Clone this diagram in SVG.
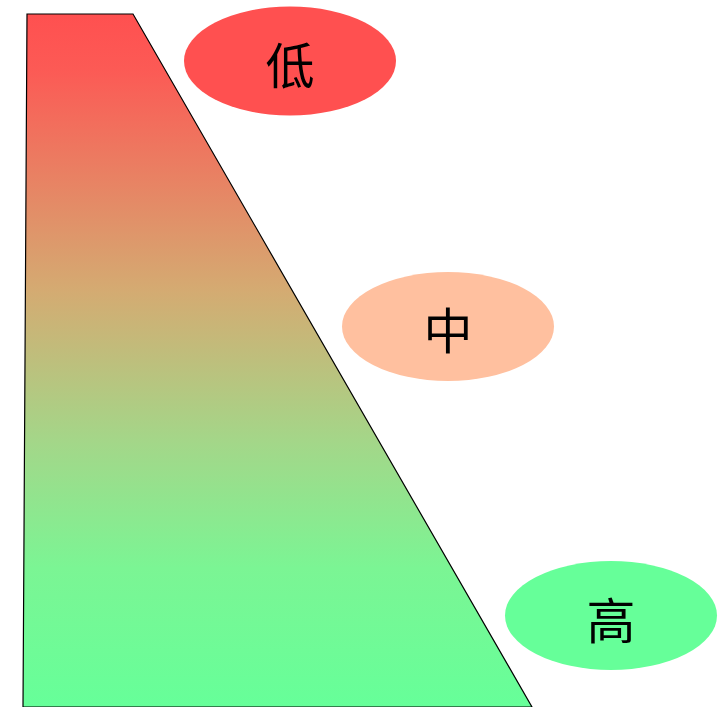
<svg xmlns="http://www.w3.org/2000/svg" width="720" height="707" viewBox="0 0 720 707">
<style>
.lbl{font-family:"Noto Sans CJK SC","Noto Sans CJK JP",sans-serif;font-size:49px;fill:#000;text-anchor:middle;dominant-baseline:central}
</style>
<defs>
<linearGradient id="g" x1="0" y1="0" x2="0" y2="1">
<stop offset="0" stop-color="#ff5050"/>
<stop offset="0.08" stop-color="#fc5a55"/>
<stop offset="0.4" stop-color="#d4ab72"/>
<stop offset="0.62" stop-color="#a3d789"/>
<stop offset="0.8" stop-color="#7bf594"/>
<stop offset="1" stop-color="#66ff99"/>
</linearGradient>
</defs>
<g id="pyramid"><polygon points="27,14 133,14 532,707 23,707" fill="url(#g)" stroke="#000" stroke-width="1.2"/></g>
<g id="low"><ellipse cx="290" cy="61" rx="106" ry="54.5" fill="#ff5050"/><text class="lbl" x="290" y="62">低</text></g>
<g id="mid"><ellipse cx="448" cy="326.5" rx="106" ry="54.5" fill="#ffc09f"/><text class="lbl" x="448" y="327">中</text></g>
<g id="high"><ellipse cx="611" cy="615.5" rx="106" ry="54.5" fill="#66ff99"/><text class="lbl" x="611" y="617">高</text></g>
<g id="connectors"></g>
</svg>
